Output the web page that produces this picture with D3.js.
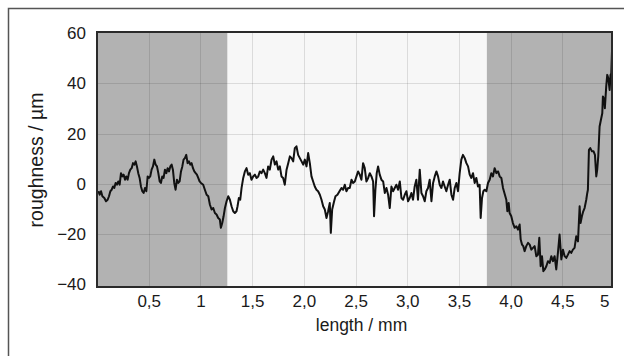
<!DOCTYPE html>
<meta charset="utf-8">
<style>
  body { margin: 0; background: #fff; }
  text { font-family: "Liberation Sans", Arial, sans-serif; fill: #1a1a1a; }
  .grid line { shape-rendering: crispEdges; }
</style>
<body>
<script src="https://cdn.jsdelivr.net/npm/d3@7/dist/d3.min.js"></script>
<script>
// ===== surface profile =====
const lengthMm = [
  0.013, 0.026, 0.039, 0.052, 0.071, 0.087, 0.103, 0.116, 0.129, 0.142, 0.155, 0.167, 0.180, 0.193, 0.206, 0.219,
  0.232, 0.245, 0.258, 0.271, 0.283, 0.296, 0.309, 0.322, 0.335, 0.348, 0.361, 0.374, 0.386, 0.399, 0.412, 0.425,
  0.438, 0.451, 0.464, 0.477, 0.490, 0.502, 0.515, 0.528, 0.541, 0.554, 0.567, 0.580, 0.593, 0.606, 0.618, 0.631,
  0.644, 0.657, 0.670, 0.683, 0.696, 0.709, 0.722, 0.734, 0.747, 0.760, 0.773, 0.786, 0.799, 0.812, 0.825, 0.837,
  0.850, 0.863, 0.876, 0.889, 0.902, 0.915, 0.928, 0.941, 0.954, 0.966, 0.979, 0.992, 1.005,
  1.027, 1.043, 1.060, 1.076, 1.092, 1.108, 1.124, 1.140, 1.156, 1.172, 1.188, 1.198, 1.211, 1.224, 1.237, 1.253,
  1.269, 1.285, 1.301, 1.317, 1.333, 1.349, 1.359, 1.372, 1.385, 1.398, 1.414, 1.430, 1.446, 1.462, 1.478, 1.494,
  1.510, 1.527, 1.543, 1.559, 1.575, 1.591, 1.607, 1.623, 1.639, 1.655, 1.671, 1.688, 1.704, 1.720, 1.736, 1.752,
  1.768, 1.784, 1.800, 1.816, 1.833, 1.849, 1.865, 1.881, 1.897, 1.913, 1.929, 1.945,
  1.978, 1.994, 2.010, 2.026, 2.042, 2.058, 2.074, 2.090, 2.106, 2.122, 2.138, 2.155, 2.171, 2.187, 2.203, 2.219,
  2.235, 2.251, 2.261, 2.274, 2.293, 2.306, 2.325, 2.345, 2.364, 2.380, 2.396, 2.412, 2.428, 2.444, 2.461, 2.477,
  2.493, 2.509, 2.525, 2.541, 2.557, 2.573, 2.589, 2.605, 2.622, 2.638, 2.654, 2.670, 2.679, 2.692, 2.705, 2.718,
  2.734, 2.750, 2.767, 2.783, 2.799, 2.815, 2.831, 2.847, 2.863, 2.879, 2.895, 2.911, 2.928, 2.944, 2.960, 2.976,
  2.992, 3.008, 3.024, 3.040, 3.056, 3.072, 3.088, 3.104, 3.121, 3.137, 3.153, 3.169, 3.185, 3.201, 3.217, 3.234,
  3.250, 3.266, 3.282, 3.298, 3.314, 3.330, 3.346, 3.362, 3.378, 3.395, 3.411, 3.427, 3.443, 3.459, 3.475, 3.491,
  3.507, 3.523, 3.539, 3.556, 3.572, 3.588, 3.604, 3.620, 3.636, 3.652, 3.668, 3.684, 3.700, 3.710, 3.723, 3.736,
  3.749, 3.765, 3.781, 3.797, 3.813, 3.829, 3.845, 3.862, 3.878, 3.894, 3.910, 3.926,
  3.958, 3.968, 3.981, 3.990, 4.006, 4.022, 4.039, 4.055, 4.071, 4.087, 4.097, 4.110, 4.122, 4.135, 4.151, 4.168,
  4.184, 4.200, 4.216, 4.232, 4.248, 4.264, 4.277, 4.290, 4.303, 4.316, 4.329, 4.345, 4.361, 4.377, 4.393, 4.409,
  4.425, 4.441, 4.457, 4.473, 4.490, 4.506, 4.522, 4.538, 4.554, 4.570, 4.586, 4.602, 4.618, 4.634, 4.651, 4.667,
  4.676, 4.689, 4.702, 4.715, 4.731, 4.741, 4.747, 4.757, 4.770, 4.786, 4.802, 4.815, 4.828, 4.837, 4.847, 4.860,
  4.873, 4.886, 4.892, 4.905, 4.911, 4.924, 4.934, 4.944, 4.957, 4.966, 4.973, 4.982
];
const roughnessUm = [
  -3.0, -4.4, -3.0, -5.0, -5.7, -7.0, -6.4, -5.0, -3.0, -2.4, -1.1, -1.7, 0.3, -0.4, 0.9, -0.4,
  4.2, 2.9, 3.6, 1.6, 2.9, 1.6, 4.2, 5.6, 6.2, 8.2, 7.6, 8.9, 6.9, 4.2, 2.3, -1.1,
  -3.0, -3.7, -1.7, -3.0, 2.9, 2.3, 2.9, 5.6, 6.9, 9.6, 7.6, 6.9, 4.2, 0.9, 0.3, 2.9,
  2.3, 5.6, 4.2, 6.2, 4.9, 6.9, 7.6, 5.6, 0.3, -2.4, 1.6, 0.3, 0.9, 4.9, 6.9, 9.6,
  10.2, 11.5, 8.2, 8.9, 7.6, 8.2, 6.2, 4.9, 4.2, 3.6, 2.3, 0.9, 0.3,
  -0.4, -2.4, -4.4, -5.0, -8.4, -10.3, -9.7, -11.7, -12.3, -13.7, -14.3, -17.6, -15.7, -13.0, -9.7, -7.0,
  -5.0, -6.4, -9.0, -11.0, -11.7, -11.0, -9.0, -5.7, -6.4, -1.7, 2.3, 4.9, 6.2, 3.6, 4.2, 1.6,
  2.9, 3.6, 2.3, 2.9, 4.9, 4.2, 5.6, 4.2, 2.3, 6.9, 5.6, 9.6, 10.9, 7.6, 8.9, 5.6,
  6.9, 2.9, 2.3, -0.4, 5.6, 8.2, 10.9, 10.2, 8.9, 14.2, 14.9, 11.5,
  8.9, 7.6, 9.6, 6.9, 12.2, 8.2, 2.9, 0.9, -1.1, -2.4, -3.0, -4.4, -6.4, -9.0, -10.3, -13.7,
  -11.0, -7.7, -19.6, -10.3, -7.0, -5.0, -4.4, -3.0, -1.7, -2.4, -0.4, -3.0, -1.7, -1.7, 1.6, 0.3,
  0.9, 2.9, 4.9, 3.6, 1.6, 8.2, 6.2, 0.9, 2.3, 4.2, 2.9, 0.9, -13.0, -2.4, 4.2, 6.9,
  3.6, 1.6, 0.9, -3.7, -1.7, -4.4, -9.7, -1.1, -3.0, -1.7, -0.4, -2.4, 0.9, -5.7, -6.4, -4.4,
  -3.0, -7.0, -5.7, -3.7, -6.4, -1.1, 1.6, -6.4, 5.6, -3.7, -5.0, -7.0, -3.0, -1.7, 1.6, -7.0,
  0.3, 2.9, 4.9, 2.9, -0.4, -1.7, 0.9, -1.1, -3.0, -0.4, 1.6, -4.4, -6.4, -1.7, 0.3, -3.0,
  4.2, 9.6, 11.5, 10.2, 8.2, 6.9, 3.6, 2.3, 4.2, 0.3, 2.3, -1.1, -0.4, -13.7, -5.7, -3.0,
  -2.4, -3.0, 0.3, 1.6, 4.2, 2.9, 6.2, 4.2, 4.9, 2.9, 2.3, -1.7,
  -6.4, -11.0, -7.7, -11.7, -13.0, -15.7, -17.6, -17.0, -18.3, -16.3, -22.3, -24.3, -24.9, -26.9, -24.9, -23.6,
  -24.3, -26.3, -25.6, -24.9, -28.9, -28.3, -21.6, -32.9, -28.9, -34.9, -34.2, -32.9, -30.9, -31.6, -28.9, -30.9,
  -28.9, -34.2, -27.6, -20.3, -30.2, -26.3, -28.9, -29.6, -28.3, -26.9, -27.6, -26.3, -25.6, -21.0, -23.0, -9.0,
  -15.7, -13.0, -11.0, -9.7, -6.4, -3.7, -2.4, 13.5, 14.2, 12.9, 12.9, 11.5, 2.9, 5.6, 10.9, 22.8,
  25.5, 28.1, 34.8, 33.4, 30.1, 38.7, 43.4, 42.1, 37.4, 43.4, 44.0, 55.3
];

// grey evaluation zones at both ends of the trace
const bandStart = [0, 3.77];
const bandEnd = [1.26, 4.98];

const xTickValues = [0.5, 1, 1.5, 2, 2.5, 3, 3.5, 4, 4.5, 4.98];
const xTickLabels = ['0,5', '1', '1,5', '2,0', '2,5', '3,0', '3,5', '4,0', '4,5', '5'];
const yTickValues = [-40, -20, 0, 20, 40, 60];

const width = 624, height = 356;
const margin = { top: 32, right: 12, bottom: 69, left: 97 };
const plotW = width - margin.left - margin.right;
const plotH = height - margin.top - margin.bottom;

const svg = d3.select('body')
  .append('svg')
    .attr('width', width)
    .attr('height', height);

// outer frame (only the top and left edges fall inside the picture)
svg.append('rect')
  .attr('x', 8.5).attr('y', 8.5)
  .attr('width', width + 10).attr('height', height + 10)
  .attr('fill', 'none')
  .attr('stroke', '#555')
  .attr('stroke-width', 1.5);

const g = svg.append('g')
  .attr('transform', `translate(${margin.left},${margin.top})`);

const x = d3.scaleLinear().domain([0, 4.98]).range([0, plotW]);
const y = d3.scaleLinear().domain([-41.2, 60.5]).range([plotH, 0]);

g.append('clipPath').attr('id', 'clip')
  .append('rect').attr('width', plotW).attr('height', plotH);

// background and grey bands
g.append('rect')
  .attr('width', plotW).attr('height', plotH)
  .attr('fill', '#f7f7f7');

g.selectAll('.band')
  .data(bandStart)
  .enter()
  .append('rect')
    .attr('class', 'band')
    .attr('x', (d, i) => x(d))
    .attr('width', (d, i) => x(bandEnd[i]) - x(d))
    .attr('height', plotH)
    .attr('fill', '#b2b2b2');

// grid
g.append('g')
  .attr('class', 'grid')
  .attr('transform', `translate(0,${plotH})`)
  .call(d3.axisBottom(x).tickValues(xTickValues.slice(0, -1)).tickSize(-plotH).tickFormat(''))
  .call(s => s.select('.domain').remove())
  .call(s => s.selectAll('line').attr('stroke', '#000').attr('stroke-opacity', 0.11));

g.append('g')
  .attr('class', 'grid')
  .call(d3.axisLeft(y).tickValues(yTickValues.slice(1, -1)).tickSize(-plotW).tickFormat(''))
  .call(s => s.select('.domain').remove())
  .call(s => s.selectAll('line').attr('stroke', '#000').attr('stroke-opacity', 0.11));

// profile trace
const points = lengthMm.map((d, i) => [d, roughnessUm[i]]);
g.append('path')
  .datum(points)
  .attr('clip-path', 'url(#clip)')
  .attr('fill', 'none')
  .attr('stroke', '#111')
  .attr('stroke-width', 2)
  .attr('stroke-linejoin', 'round')
  .attr('d', d3.line().x(d => x(d[0])).y(d => y(d[1])));

// frame of plot
g.append('rect')
  .attr('width', plotW).attr('height', plotH)
  .attr('fill', 'none')
  .attr('stroke', '#2a2a2a')
  .attr('stroke-width', 2);

// axes labels
const xAxis = g.append('g')
  .attr('transform', `translate(0,${plotH})`)
  .call(d3.axisBottom(x).tickValues(xTickValues).tickSize(0).tickPadding(8)
    .tickFormat((d, i) => xTickLabels[i]));
xAxis.select('.domain').remove();
xAxis.selectAll('text').style('font-size', '17px').style('fill', '#1a1a1a');
xAxis.selectAll('.tick:last-of-type text').attr('text-anchor', 'end').attr('dx', '-3');

const yAxis = g.append('g')
  .call(d3.axisLeft(y).tickValues(yTickValues).tickSize(0).tickPadding(11));
yAxis.select('.domain').remove();
yAxis.selectAll('text').style('font-size', '17px').style('fill', '#1a1a1a');

svg.append('text')
  .attr('x', margin.left + plotW / 2 + 7)
  .attr('y', 331)
  .attr('text-anchor', 'middle')
  .style('font-size', '17.5px')
  .text('length / mm');

svg.append('text')
  .attr('transform', 'translate(43,160) rotate(-90)')
  .attr('text-anchor', 'middle')
  .style('font-size', '19.5px')
  .text('roughness / µm');
</script>
</body>
